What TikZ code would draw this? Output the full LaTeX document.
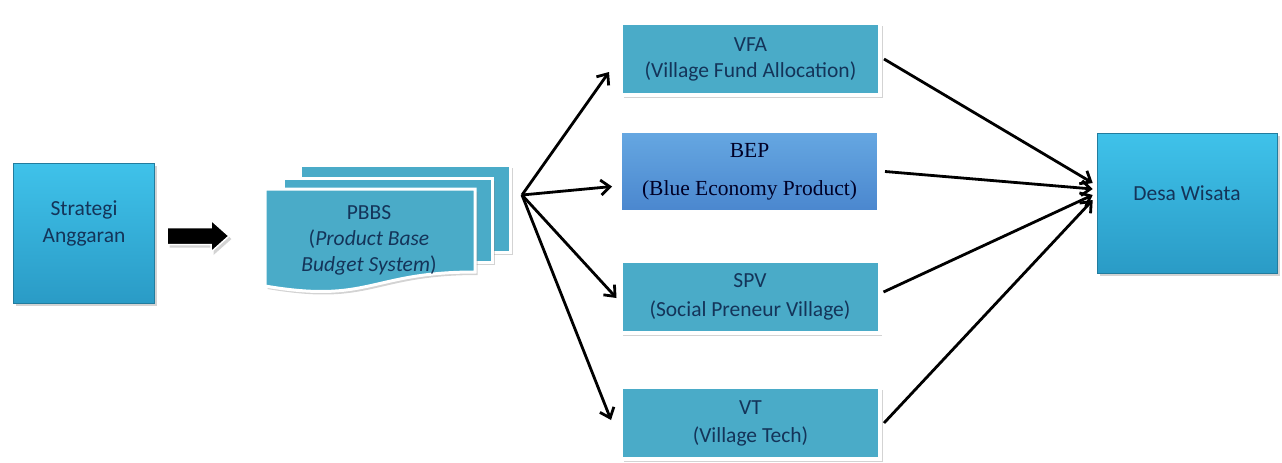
\documentclass[tikz,border=0pt]{standalone}
\usepackage{fontspec}
\setmainfont{Carlito}
\newfontfamily\bepfont{Liberation Serif}
\usetikzlibrary{arrows.meta,shadows,calc}

\definecolor{aqua}{HTML}{4AABC8}
\definecolor{skytop}{HTML}{3FC2EA}
\definecolor{skybot}{HTML}{2A9BC6}
\definecolor{beptop}{HTML}{66A8E2}
\definecolor{bepbot}{HTML}{4A86CE}
\definecolor{navytext}{HTML}{143459}

\tikzset{
  shadowed/.style={drop shadow={opacity=0.35,shadow xshift=2.5pt,shadow yshift=-3pt}},
  skybox/.style={top color=skytop, bottom color=skybot, draw=skybot!80!black, line width=0.6pt,
    minimum width=141pt, minimum height=140pt, inner sep=0pt, shadowed},
  aquabox/.style={draw=white, line width=4pt, fill=aqua, minimum width=259pt, minimum height=72pt,
    inner sep=0pt, text=navytext, align=center, shadowed},
  bepbox/.style={draw=white, line width=6pt, top color=beptop, bottom color=bepbot,
    minimum width=261pt, minimum height=83pt, inner sep=0pt, align=center, text=black!85!blue,
    font=\bepfont\fontsize{21.5}{38}\selectfont, shadowed},
  docsheet/.style={fill=aqua, draw=white, line width=3pt, shadowed},
  blockarrow/.style={fill=black, draw=white, line width=1.5pt, line join=miter, shadowed},
  conn/.style={line width=2.8pt, -{Straight Barb[length=9pt,width=15pt]}},
  boxtext/.style={text=navytext, align=center},
}

\begin{document}
\begin{tikzpicture}[x=1pt,y=-1pt,font=\fontsize{21.5}{26}\selectfont]
\useasboundingbox (0,0) rectangle (1282,463);

% start and end boxes
\node[skybox, label={[boxtext, yshift=10pt, font=\fontsize{21.5}{27}\selectfont]center:Strategi\\Anggaran}] (strat) at (84,233) {};
\node[skybox, minimum width=180pt, label={[boxtext, yshift=10pt]center:Desa Wisata}] (desa) at (1187,203) {};

% block arrow from the strategy box to the budget stack
\draw[blockarrow, shift={(167,236)}] (0,-8.5) -- (44,-8.5) -- (44,-16) -- (62,0) -- (44,16) -- (44,8.5) -- (0,8.5) -- cycle;

% stacked document sheets
\path[docsheet] (300,165) rectangle (510,252);
\path[docsheet] (283,178) rectangle (492,262);
\path[docsheet] (265,189) -- (475,189) -- (475,272) .. controls (370,272) and (370,304) .. (265,286) -- cycle;
\node[boxtext] (pbbs) at (369,240) {PBBS\\(\textit{Product Base}\\\textit{Budget System})};

% the four programmes
\node[aquabox] (vfa) at (750.5,59) {VFA\\(Village Fund Allocation)};
\node[bepbox] (bep) at (749.5,171.5) {BEP\\(Blue Economy Product)};
\node[aquabox, font=\fontsize{21.5}{29}\selectfont] (spv) at (750,297) {SPV\\(Social Preneur Village)};
\node[aquabox, font=\fontsize{21.5}{28}\selectfont] (vt) at (750.5,423) {VT\\(Village Tech)};

% fan out from the stack
\coordinate (fan) at (522,195);
\draw[conn] (fan) -- ([xshift=-10pt,yshift=-13pt]vfa.west);
\draw[conn] (fan) -- ([xshift=-4pt,yshift=-15pt]bep.west);
\draw[conn] (fan) -- ([xshift=-2pt,yshift=-1pt]spv.west);
\draw[conn] (fan) -- ([xshift=-8pt,yshift=3pt]vt.west);

% converge on the destination
\draw[conn] ([xshift=2pt]vfa.east) -- ([xshift=-4pt,yshift=20pt]desa.west);
\draw[conn] ([xshift=2pt]bep.east) -- ([xshift=-4pt,yshift=14pt]desa.west);
\draw[conn] ([xshift=2pt,yshift=5pt]spv.east) -- ([xshift=-4pt,yshift=8pt]desa.west);
\draw[conn] ([xshift=2pt]vt.east) -- ([xshift=-4pt,yshift=3pt]desa.west);
\end{tikzpicture}
\end{document}
